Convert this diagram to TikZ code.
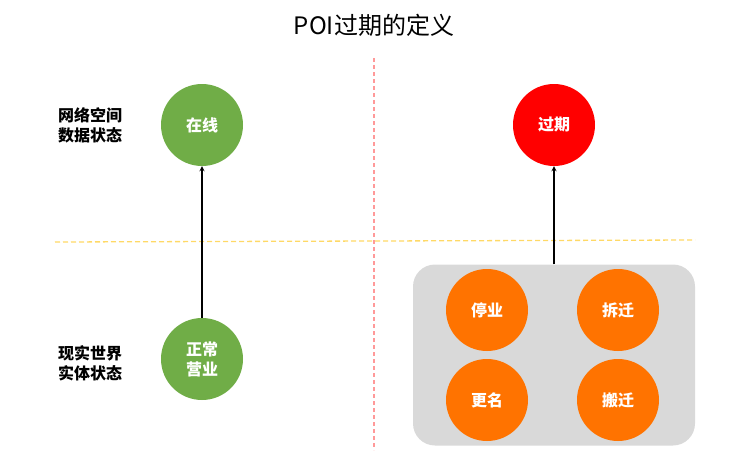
\documentclass[tikz,border=0pt]{standalone}
\usepackage{fontspec}
\setmainfont{Noto Sans CJK SC}
\usetikzlibrary{arrows}
\definecolor{okgreen}{HTML}{70AD47}
\definecolor{lateorange}{HTML}{FF7300}
\definecolor{boxgray}{HTML}{D9D9D9}
\definecolor{splitred}{HTML}{FF9999}
\definecolor{splityellow}{HTML}{FFD966}
\tikzset{>=stealth,
  ball/.style={circle,minimum size=82pt,inner sep=0pt,text=white,
    font=\fontsize{16}{20}\selectfont\bfseries,align=center},
  side/.style={font=\fontsize{16}{20}\selectfont\bfseries,align=left}}

\begin{document}
\begin{tikzpicture}[x=1pt,y=-1pt]
\useasboundingbox (0,0) rectangle (750,464);
\node[font=\fontsize{24}{28}\selectfont] (title) at (374,25) {POI过期的定义};
% quadrant split
\draw[splitred,line width=1.3pt,dash pattern=on 4pt off 3pt] (374,58) -- (374,450);
\draw[splityellow,line width=1.3pt,dash pattern=on 5pt off 3pt] (55,242) -- (695,240);
% left side
\node[side] (net) at (90,125) {网络空间\\数据状态};
\node[side] (real) at (90,363) {现实世界\\实体状态};
\node[ball,fill=okgreen] (on) at (202,125) {在线};
\node[ball,fill=okgreen] (biz) at (202,359) {正常\\营业};
\path[->,line width=1.2pt] (biz) edge (on);
% right side
\node[rectangle,rounded corners=22pt,fill=boxgray,minimum width=282pt,minimum height=181pt] (grp) at (554,355) {};
\node[ball,fill=red] (exp) at (554,125) {过期};
\node[ball,fill=lateorange] (stop) at (487,310) {停业};
\node[ball,fill=lateorange] (demo) at (618,310) {拆迁};
\node[ball,fill=lateorange] (rename) at (487,400) {更名};
\node[ball,fill=lateorange] (move) at (618,400) {搬迁};
\path[->,line width=1.2pt] (grp) edge (exp);
\end{tikzpicture}
\end{document}
